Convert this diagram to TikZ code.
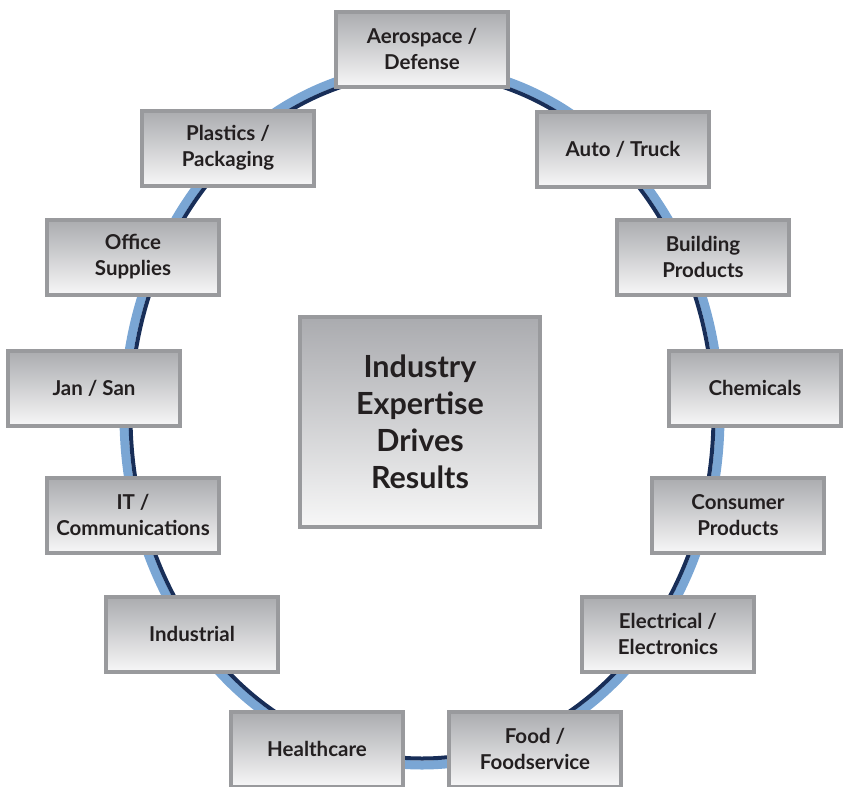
\documentclass[tikz,border=0pt]{standalone}
\usepackage{fontspec}
\setmainfont{Lato}
\usepackage{tikz}
\usetikzlibrary{positioning, shapes, calc}

\definecolor{ringlight}{RGB}{122,166,212}
\definecolor{ringdark}{RGB}{24,46,88}
\definecolor{boxedge}{RGB}{153,154,157}
\definecolor{boxtop}{RGB}{170,171,175}
\definecolor{boxbottom}{RGB}{247,247,247}
\definecolor{labeltext}{RGB}{35,31,32}

\tikzset{
    sector/.style={draw=boxedge, line width=4pt, top color=boxtop, bottom color=boxbottom,
        minimum width=172pt, minimum height=75pt, inner sep=0pt, align=center,
        text=labeltext, font=\fontsize{20.5}{26}\selectfont\bfseries},
    hub/.style={sector, minimum width=240pt, minimum height=210pt,
        font=\fontsize{30.5}{37}\selectfont\bfseries}
}

\begin{document}
\begin{tikzpicture}[x=1pt, y=-1pt]
    \useasboundingbox (0,0) rectangle (846,787);

    % Ring
    \draw[ringlight, line width=9pt] (422,416) ellipse (298 and 349);
    \draw[ringdark, line width=4pt] (422,416) ellipse (291.5 and 342.5);

    % Industries round the ring
    \foreach \name/\pos/\txt in {
        aero/{(422,49)}/{Aerospace /\\Defense},
        auto/{(623,149)}/{Auto / Truck},
        build/{(703,257)}/{Building\\Products},
        chem/{(755,388)}/{Chemicals},
        consumer/{(738,515)}/{Consumer\\Products},
        elec/{(668,634)}/{Electrical /\\Electronics},
        food/{(535,749)}/{Food /\\Foodservice},
        health/{(317,749)}/{Healthcare},
        indus/{(192,634)}/{Industrial},
        it/{(133,515)}/{IT /\\Communications},
        jansan/{(94,388)}/{Jan / San},
        office/{(133,257)}/{Office\\Supplies},
        plastics/{(228,148)}/{Plastics /\\Packaging}} {
        \node[sector] (\name) at \pos {\txt};
    }

    % Centre
    \node[hub] (hub) at (420,422) {Industry\\Expertise\\Drives\\Results};
\end{tikzpicture}
\end{document}
